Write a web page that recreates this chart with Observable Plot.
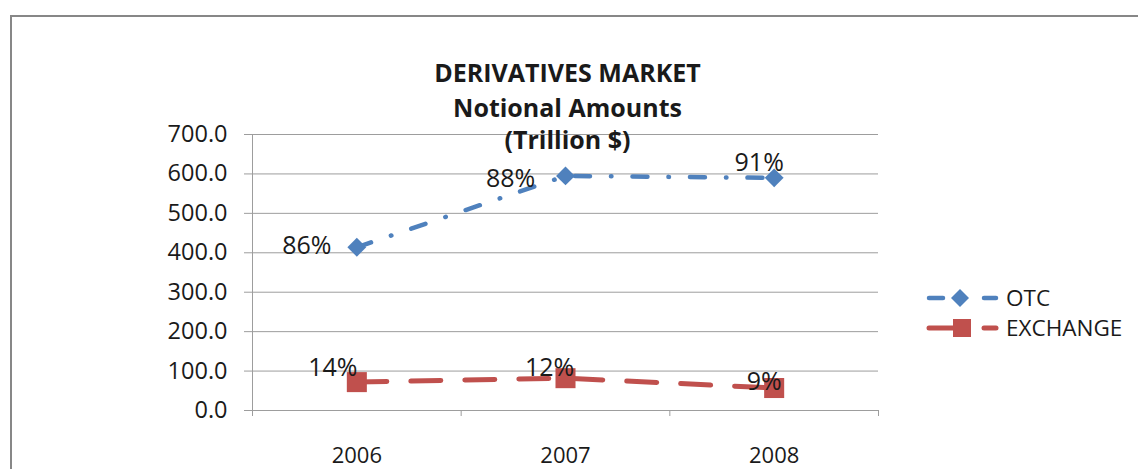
<!DOCTYPE html>
<html><head><meta charset="utf-8">
<script src="https://cdn.jsdelivr.net/npm/d3@7"></script>
<script src="https://cdn.jsdelivr.net/npm/@observablehq/plot@0.6"></script>
<style>
body{margin:0;background:#fff;}
#wrap{position:relative;width:1138px;height:469px;overflow:hidden;font-family:"Open Sans",sans-serif;}
#chart{position:absolute;left:0;top:0;}
#frame{position:absolute;left:10px;top:15px;width:1300px;height:700px;border:2px solid #878787;box-sizing:border-box;pointer-events:none;}
#legend{position:absolute;left:920px;top:280px;}
</style></head><body>
<div id="wrap"><div id="chart"></div><div id="frame"></div><div id="legend"></div></div>
<script>
// ---- data ----
const years = ["2006", "2007", "2008"];
const otc = [414, 595, 590];
const exchange = [72, 82, 57];
const otcShare = ["86%", "88%", "91%"];
const exchangeShare = ["14%", "12%", "9%"];
const yTicks = [0, 100, 200, 300, 400, 500, 600, 700];
const titleLines = ["DERIVATIVES MARKET", "Notional Amounts", "(Trillion $)"];
const seriesNames = ["OTC", "EXCHANGE"];

// ---- layout / style ----
const blue = "#4F81BD", red = "#C0504D", grid = "#9d9d9d", ink = "#1a1a1a";
const otcLabelOffsets = [[-50, -1], [-55, 3], [-15, -15]];
const exLabelOffsets = [[-24, -14], [-16, -10], [-10, -6]];
const titleDy = [-70, -35, -3];

const otcRows = years.map((y, i) => ({year: y, pos: i + 0.5, value: otc[i], label: otcShare[i]}));
const exRows = years.map((y, i) => ({year: y, pos: i + 0.5, value: exchange[i], label: exchangeShare[i]}));

const labelMarks = [];
otcRows.forEach((d, i) => labelMarks.push(Plot.text([d], {x: "pos", y: "value", text: "label", dx: otcLabelOffsets[i][0], dy: otcLabelOffsets[i][1], fontSize: 25, fill: ink})));
exRows.forEach((d, i) => labelMarks.push(Plot.text([d], {x: "pos", y: "value", text: "label", dx: exLabelOffsets[i][0], dy: exLabelOffsets[i][1], fontSize: 25, fill: ink})));

const titleMarks = titleLines.map((t, i) => Plot.text([t], {text: d => d, frameAnchor: "top", dx: 2, dy: titleDy[i], fontSize: 25, fontWeight: "bold", fill: ink}));

const chart = Plot.plot({
  width: 1138, height: 469,
  marginLeft: 252, marginRight: 260, marginTop: 134, marginBottom: 59,
  style: {fontFamily: "'Open Sans', sans-serif", background: "transparent", overflow: "visible"},
  x: {type: "linear", domain: [0, 3]},
  y: {domain: [0, 700]},
  marks: [
    Plot.gridY(yTicks, {stroke: grid, strokeOpacity: 1}),
    Plot.ruleX([0], {stroke: grid}),
    Plot.axisY(yTicks, {tickSize: 8, tickPadding: 17, tickFormat: d3.format(".1f"), fontSize: 23.5, stroke: grid, fill: ink, label: null}),
    Plot.axisX([0, 1, 2, 3], {tickSize: 6, tickFormat: () => "", stroke: grid, label: null}),
    Plot.axisX([0.5, 1.5, 2.5], {tickSize: 0, tickPadding: 37, tickFormat: d => years[Math.floor(d)], fontSize: 22, fill: ink, label: null}),
    Plot.line(otcRows, {x: "pos", y: "value", stroke: blue, strokeWidth: 4.5, strokeDasharray: "15,21,0.5,21", strokeLinecap: "round"}),
    Plot.line(exRows, {x: "pos", y: "value", stroke: red, strokeWidth: 5, strokeDasharray: "30,24", strokeLinecap: "round"}),
    Plot.dot(otcRows, {x: "pos", y: "value", symbol: "diamond2", r: 8.5, fill: blue, stroke: null}),
    Plot.dot(exRows, {x: "pos", y: "value", symbol: "square", r: 11.3, fill: red, stroke: null}),
    ...labelMarks,
    ...titleMarks
  ]
});
document.getElementById("chart").appendChild(chart);

// ---- legend ----
const legendSvg = `
<svg width="218" height="70" xmlns="http://www.w3.org/2000/svg" style="font-family:'Open Sans',sans-serif">
  <line x1="9" y1="18" x2="23" y2="18" stroke="${blue}" stroke-width="4.5" stroke-linecap="round"/>
  <polygon points="40,9 49,18 40,27 31,18" fill="${blue}"/>
  <line x1="64" y1="18" x2="76" y2="18" stroke="${blue}" stroke-width="4.5" stroke-linecap="round"/>
  <text x="86" y="18" dy="0.35em" font-size="22.5" fill="${ink}">${seriesNames[0]}</text>
  <line x1="9" y1="48" x2="35" y2="48" stroke="${red}" stroke-width="5" stroke-linecap="round"/>
  <rect x="33" y="39" width="18" height="18" fill="${red}"/>
  <line x1="64" y1="48" x2="76" y2="48" stroke="${red}" stroke-width="5" stroke-linecap="round"/>
  <text x="86" y="48" dy="0.35em" font-size="22.5" fill="${ink}">${seriesNames[1]}</text>
</svg>`;
document.getElementById("legend").innerHTML = legendSvg;
</script>
</body></html>
